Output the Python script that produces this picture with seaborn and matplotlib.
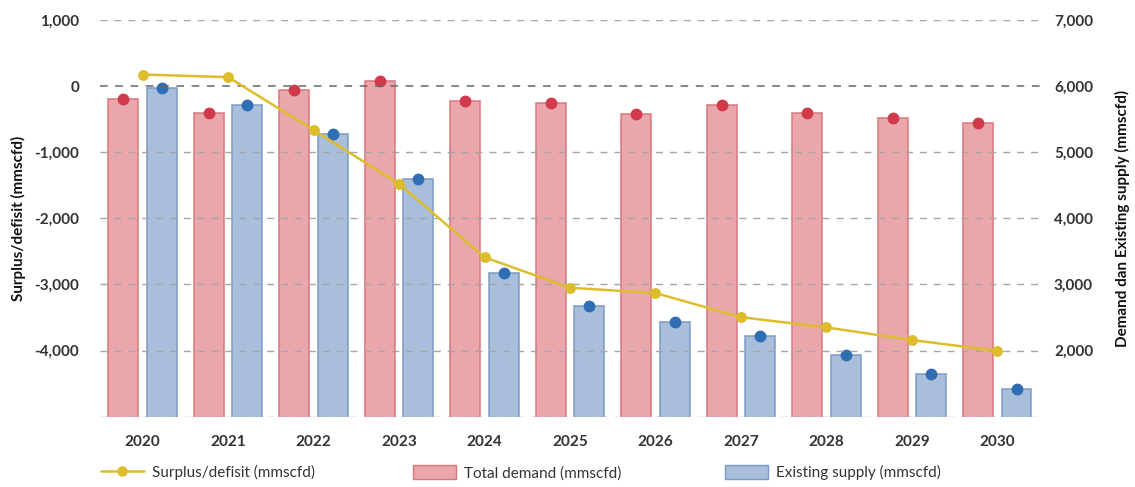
import pandas as pd
import seaborn as sns
import matplotlib.pyplot as plt
from matplotlib.lines import Line2D
from matplotlib.patches import Patch
from matplotlib.ticker import FuncFormatter

years = ['2020', '2021', '2022', '2023', '2024', '2025', '2026', '2027', '2028', '2029', '2030']
total_demand = [5800, 5590, 5945, 6070, 5780, 5740, 5575, 5715, 5600, 5510, 5435]
existing_supply = [5970, 5720, 5270, 4590, 3180, 2675, 2435, 2215, 1930, 1650, 1420]
surplus = [175, 135, -665, -1480, -2590, -3050, -3130, -3495, -3650, -3840, -4005]

demand_label = 'Total demand (mmscfd)'
supply_label = 'Existing supply (mmscfd)'
surplus_label = 'Surplus/defisit (mmscfd)'

red_fill, red_edge, red_dot = '#EAA7AB', '#D9777E', '#D03A4B'
blue_fill, blue_edge, blue_dot = '#A8BEDB', '#7B9BC7', '#2F6DB4'
gold = '#DDBD2C'
text_color = '#333333'

bars = pd.DataFrame({
    'year': years * 2,
    'value': total_demand + existing_supply,
    'series': [demand_label] * len(years) + [supply_label] * len(years),
})
line = pd.DataFrame({'year': years, 'value': surplus})

sns.set_theme(style='white')
plt.rcParams['font.family'] = ['Lato', 'DejaVu Sans']

fig = plt.figure(figsize=(11.35, 4.87), dpi=100)
ax = fig.add_axes([0.0881, 0.1444, 0.8282, 0.8146])
ax2 = ax.twinx()

sns.barplot(
    data=bars, x='year', y='value', hue='series',
    palette=[red_fill, blue_fill], width=0.9, gap=0.22,
    legend=False, ax=ax2, linewidth=1.1, saturation=1,
)
for i, bar in enumerate(ax2.patches):
    bar.set_edgecolor(red_edge if i < len(years) else blue_edge)
    ax2.plot(bar.get_x() + bar.get_width() / 2, bar.get_height(), 'o',
             color=red_dot if i < len(years) else blue_dot, markersize=7.5, zorder=5)

ax.set_zorder(ax2.get_zorder() + 1)
ax.patch.set_visible(False)

sns.pointplot(
    data=line, x='year', y='value', color=gold, markers='o',
    markersize=6.5, linewidth=1.8, errorbar=None, ax=ax,
)

ax.set_xlim(-0.5, len(years) - 0.5)
ax.set_ylim(-5000, 1000)
ax2.set_ylim(1000, 7000)
ax.set_yticks(range(-5000, 1001, 1000))
ax2.set_yticks(range(1000, 7001, 1000))

fmt_left = FuncFormatter(lambda v, p: '' if v <= -5000 else f'{int(v):,}')
fmt_right = FuncFormatter(lambda v, p: '' if v <= 1000 else f'{int(v):,}')
ax.yaxis.set_major_formatter(fmt_left)
ax2.yaxis.set_major_formatter(fmt_right)

for v in range(-5000, 1001, 1000):
    ax.axhline(v, color='#666666' if v == 0 else '#A5A5A5',
               linewidth=1.1 if v == 0 else 1.0, linestyle=(0, (5, 5)), zorder=0.5)

for a in (ax, ax2):
    for s in a.spines.values():
        s.set_visible(False)
    a.tick_params(length=0, colors=text_color, labelsize=11)
    for lab in a.get_yticklabels() + a.get_xticklabels():
        lab.set_fontweight('bold')
ax.tick_params(axis='y', pad=15)
ax2.tick_params(axis='y', pad=10)
ax.tick_params(axis='x', pad=13)

ax.set_xlabel('')
ax2.set_xlabel('')
ax.set_ylabel(surplus_label, fontsize=11, fontweight='bold', color='#111111', labelpad=6)
ax2.set_ylabel('Demand dan Existing supply (mmscfd)', fontsize=11, fontweight='bold',
               color='#111111', labelpad=16)

handles = [
    Line2D([], [], color=gold, marker='o', markersize=6.5, linewidth=1.8),
    Patch(facecolor=red_fill, edgecolor=red_edge),
    Patch(facecolor=blue_fill, edgecolor=blue_edge),
]
labels = [surplus_label, demand_label, supply_label]
for h, lab, x in zip(handles, labels, [0.089, 0.364, 0.639]):
    leg = fig.legend([h], [lab], loc='center left', bbox_to_anchor=(x, 0.029),
                     frameon=False, fontsize=11, handlelength=2.8, handleheight=1.0,
                     handletextpad=0.55, borderpad=0, borderaxespad=0)
    for t in leg.get_texts():
        t.set_color(text_color)

fig.savefig('out.png', dpi=100)
